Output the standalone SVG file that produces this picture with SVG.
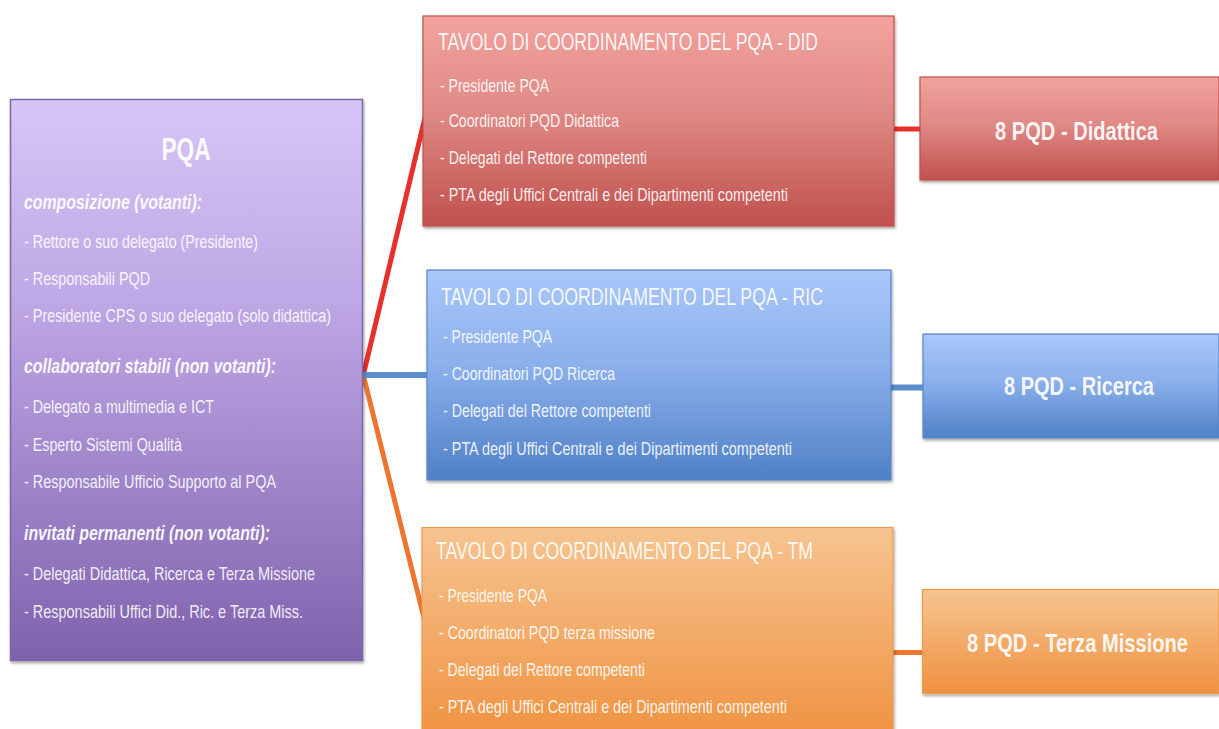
<svg xmlns="http://www.w3.org/2000/svg" width="1219" height="729" viewBox="0 0 1219 729">
<defs>
<linearGradient id="gPurple" x1="0" y1="0" x2="0" y2="1">
<stop offset="0" stop-color="#d6c6f6"/><stop offset="0.35" stop-color="#bfa8e6"/><stop offset="1" stop-color="#7f62ad"/>
</linearGradient>
<linearGradient id="gRed" x1="0" y1="0" x2="0" y2="1">
<stop offset="0" stop-color="#f2a29e"/><stop offset="0.45" stop-color="#e08a86"/><stop offset="1" stop-color="#c0504d"/>
</linearGradient>
<linearGradient id="gBlue" x1="0" y1="0" x2="0" y2="1">
<stop offset="0" stop-color="#a9c7fa"/><stop offset="0.45" stop-color="#8cb0ec"/><stop offset="1" stop-color="#4f80c6"/>
</linearGradient>
<linearGradient id="gOrange" x1="0" y1="0" x2="0" y2="1">
<stop offset="0" stop-color="#f6c490"/><stop offset="0.45" stop-color="#f3ad6c"/><stop offset="1" stop-color="#ef913f"/>
</linearGradient>
<filter id="sh" x="-5%" y="-5%" width="110%" height="112%">
<feGaussianBlur in="SourceAlpha" stdDeviation="1.5"/>
<feOffset dx="1" dy="2" result="b"/>
<feComponentTransfer><feFuncA type="linear" slope="0.35"/></feComponentTransfer>
<feMerge><feMergeNode/><feMergeNode in="SourceGraphic"/></feMerge>
</filter>
</defs>
<style>
text{font-family:"Liberation Sans Narrow","Liberation Sans",Arial,sans-serif;fill:#ffffff;}
.it{font-size:19px;fill-opacity:0.9;}
.hd{font-size:19.5px;font-weight:bold;font-style:italic;fill-opacity:0.95;}
.ti{font-size:23.5px;fill-opacity:0.92;}
.big{font-size:26px;font-weight:bold;text-anchor:middle;fill-opacity:0.92;}
.pqa{font-size:31px;font-weight:bold;text-anchor:middle;fill-opacity:0.95;}
.bP{fill:url(#gPurple);stroke:#7a68a8;stroke-width:1.5;}
.bR{fill:url(#gRed);stroke:#c0504d;stroke-width:1.2;}
.bB{fill:url(#gBlue);stroke:#5a86c8;stroke-width:1.2;}
.bO{fill:url(#gOrange);stroke:#ee9a50;stroke-width:1.2;}
.cR{stroke:#e8302a;stroke-width:5;fill:none;}
.cB{stroke:#5b8fd0;stroke-width:6;fill:none;}
.cO{stroke:#ee7530;stroke-width:5;fill:none;}
</style>
<g id="connectors">
<line class="cR" x1="364" y1="372" x2="428" y2="105"/>
<line class="cB" x1="362" y1="375" x2="428" y2="375"/>
<line class="cO" x1="364" y1="378" x2="427" y2="630"/>
<line class="cR" x1="893" y1="129" x2="921" y2="129"/>
<line class="cB" x1="891" y1="387.5" x2="924" y2="387.5"/>
<line class="cO" x1="893" y1="652.5" x2="923" y2="652.5"/>
</g>
<g id="pqa">
<rect class="bP" x="10.5" y="99.5" width="352" height="561" filter="url(#sh)"/>
<text class="pqa" x="186" y="160" textLength="49" lengthAdjust="spacingAndGlyphs">PQA</text>
<text class="hd" x="24" y="209" textLength="178" lengthAdjust="spacingAndGlyphs">composizione (votanti):</text>
<text class="it" x="24" y="248" textLength="234" lengthAdjust="spacingAndGlyphs">- Rettore o suo delegato (Presidente)</text>
<text class="it" x="24" y="284.5" textLength="126" lengthAdjust="spacingAndGlyphs">- Responsabili PQD</text>
<text class="it" x="24" y="321.5" textLength="307" lengthAdjust="spacingAndGlyphs">- Presidente CPS o suo delegato (solo didattica)</text>
<text class="hd" x="24" y="373" textLength="252" lengthAdjust="spacingAndGlyphs">collaboratori stabili (non votanti):</text>
<text class="it" x="24" y="413" textLength="190" lengthAdjust="spacingAndGlyphs">- Delegato a multimedia e ICT</text>
<text class="it" x="24" y="450.5" textLength="158" lengthAdjust="spacingAndGlyphs">- Esperto Sistemi Qualità</text>
<text class="it" x="24" y="488" textLength="252" lengthAdjust="spacingAndGlyphs">- Responsabile Ufficio Supporto al PQA</text>
<text class="hd" x="24" y="539.5" textLength="246" lengthAdjust="spacingAndGlyphs">invitati permanenti (non votanti):</text>
<text class="it" x="24" y="579.5" textLength="291" lengthAdjust="spacingAndGlyphs">- Delegati Didattica, Ricerca e Terza Missione</text>
<text class="it" x="24" y="618" textLength="279" lengthAdjust="spacingAndGlyphs">- Responsabili Uffici Did., Ric. e Terza Miss.</text>
</g>
<g id="tavolo-did">
<rect class="bR" x="423" y="16" width="471" height="210" filter="url(#sh)"/>
<text class="ti" x="438" y="50" textLength="380" lengthAdjust="spacingAndGlyphs">TAVOLO DI COORDINAMENTO DEL PQA - DID</text>
<text class="it" x="440" y="91.5" textLength="109" lengthAdjust="spacingAndGlyphs">- Presidente PQA</text>
<text class="it" x="440" y="126.5" textLength="179" lengthAdjust="spacingAndGlyphs">- Coordinatori PQD Didattica</text>
<text class="it" x="440" y="163.5" textLength="207" lengthAdjust="spacingAndGlyphs">- Delegati del Rettore competenti</text>
<text class="it" x="440" y="201" textLength="348" lengthAdjust="spacingAndGlyphs">- PTA degli Uffici Centrali e dei Dipartimenti competenti</text>
</g>
<g id="tavolo-ric">
<rect class="bB" x="427" y="270" width="464" height="210" filter="url(#sh)"/>
<text class="ti" x="441" y="305" textLength="382" lengthAdjust="spacingAndGlyphs">TAVOLO DI COORDINAMENTO DEL PQA - RIC</text>
<text class="it" x="443" y="343" textLength="109" lengthAdjust="spacingAndGlyphs">- Presidente PQA</text>
<text class="it" x="443" y="380" textLength="172" lengthAdjust="spacingAndGlyphs">- Coordinatori PQD Ricerca</text>
<text class="it" x="443" y="417" textLength="208" lengthAdjust="spacingAndGlyphs">- Delegati del Rettore competenti</text>
<text class="it" x="443" y="455" textLength="349" lengthAdjust="spacingAndGlyphs">- PTA degli Uffici Centrali e dei Dipartimenti competenti</text>
</g>
<g id="tavolo-tm">
<rect class="bO" x="422" y="527.5" width="471" height="215" filter="url(#sh)"/>
<text class="ti" x="436" y="559" textLength="377" lengthAdjust="spacingAndGlyphs">TAVOLO DI COORDINAMENTO DEL PQA - TM</text>
<text class="it" x="439" y="601.5" textLength="108" lengthAdjust="spacingAndGlyphs">- Presidente PQA</text>
<text class="it" x="439" y="638.5" textLength="216" lengthAdjust="spacingAndGlyphs">- Coordinatori PQD terza missione</text>
<text class="it" x="439" y="675.5" textLength="206" lengthAdjust="spacingAndGlyphs">- Delegati del Rettore competenti</text>
<text class="it" x="439" y="712.5" textLength="348" lengthAdjust="spacingAndGlyphs">- PTA degli Uffici Centrali e dei Dipartimenti competenti</text>
</g>
<g id="pqd-did">
<rect class="bR" x="920" y="77" width="299" height="103" filter="url(#sh)"/>
<text class="big" transform="translate(1076.5 140) scale(0.77 1)" x="0" y="0" textLength="211.7" lengthAdjust="spacingAndGlyphs">8 PQD - Didattica</text>
</g>
<g id="pqd-ric">
<rect class="bB" x="923" y="334" width="296" height="104" filter="url(#sh)"/>
<text class="big" transform="translate(1079 395) scale(0.77 1)" x="0" y="0" textLength="194.8" lengthAdjust="spacingAndGlyphs">8 PQD - Ricerca</text>
</g>
<g id="pqd-tm">
<rect class="bO" x="922.5" y="589.5" width="296.5" height="104" filter="url(#sh)"/>
<text class="big" transform="translate(1077.5 651.5) scale(0.77 1)" x="0" y="0" textLength="287" lengthAdjust="spacingAndGlyphs">8 PQD - Terza Missione</text>
</g>
</svg>
